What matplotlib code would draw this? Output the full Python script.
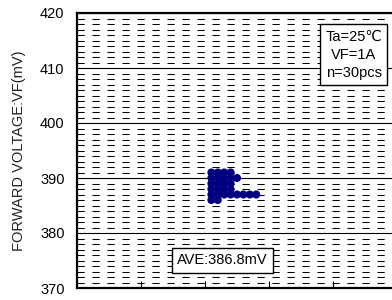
import numpy as np
import matplotlib
matplotlib.use("Agg")
import matplotlib.pyplot as plt
from matplotlib.ticker import MultipleLocator

# Forward voltage levels (mV) and how many samples sit on each level
vf_levels = [391, 390, 389, 388, 387, 386]
vf_counts = [4, 5, 4, 4, 8, 2]
y_ticks = [370, 380, 390, 400, 410, 420]
ave_label = "AVE:386.8mV"
cond_label = "Ta=25\u2103\nVF=1A\nn=30pcs"
y_label = "FORWARD VOLTAGE:VF(mV)"

plt.rcParams['font.family'] = ['Liberation Sans', 'DejaVu Sans']
plt.rcParams['lines.scale_dashes'] = False

fig = plt.figure(figsize=(3.92, 3.00), dpi=100)
# axes runs off the right edge like the cropped original
ax = fig.add_axes([77 / 392, 12 / 300, (400 - 77) / 392, 275 / 300])

# stacked dot plot, one marker per sample
xs, ys = [], []
for v, n in zip(vf_levels, vf_counts):
    for k in range(n):
        xs.append(2.1 + 0.1 * k)
        ys.append(v)
ax.scatter(xs, ys, s=34, color='#000080', edgecolors='none', zorder=3, clip_on=False)

ax.set_ylim(370, 420)
ax.set_xlim(0, (400 - 77) / 64)
ax.set_yticks(y_ticks)
ax.yaxis.set_minor_locator(MultipleLocator(1))
ax.set_xticks([1, 2, 3, 4])
ax.set_xticklabels([])

# grid: dashed every 1 mV, solid every 10 mV
ax.grid(which='minor', axis='y', color='black', linewidth=0.75, linestyle=(0, (5.2, 5.6)))
ax.grid(which='major', axis='y', color='black', linewidth=0.8, linestyle='-')
ax.set_axisbelow(True)

ax.tick_params(axis='y', which='both', length=0, labelsize=10.5, pad=9)
ax.tick_params(axis='x', which='major', direction='in', length=5, width=0.8)
for s in ax.spines.values():
    s.set_linewidth(1.6)

ax.set_ylabel(y_label, fontsize=10.5, labelpad=10, color='#222222')

ax.text(0.857, 0.94, cond_label, transform=ax.transAxes, ha='center', va='top',
        fontsize=10.5, linespacing=1.4,
        bbox=dict(boxstyle='square,pad=0.35', facecolor='white', edgecolor='black', linewidth=1))
ax.text(0.31, 0.10, ave_label, transform=ax.transAxes, ha='left', va='center',
        fontsize=10.5,
        bbox=dict(boxstyle='square,pad=0.35', facecolor='white', edgecolor='black', linewidth=1))

fig.savefig("out.png", dpi=100)
